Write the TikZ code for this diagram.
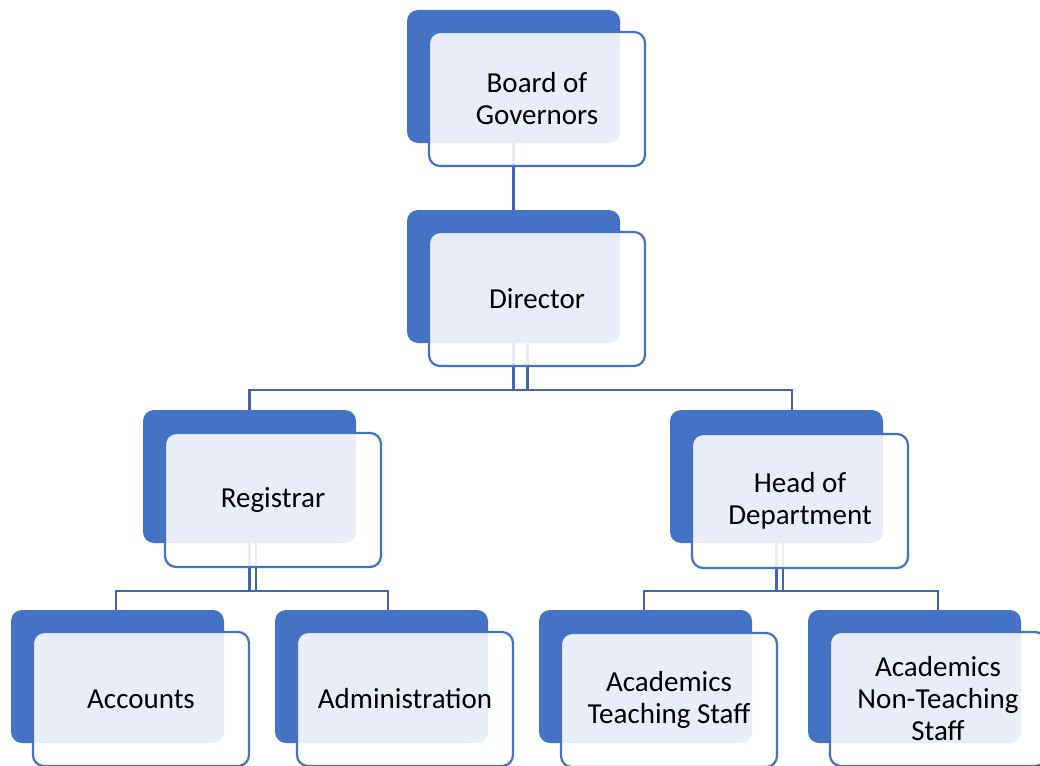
\documentclass[tikz,border=0pt]{standalone}
\usepackage{fontspec}
\setmainfont{Carlito}
\definecolor{boxblue}{HTML}{4472C4}

\begin{document}
\begin{tikzpicture}[x=1pt, y=-1pt,
  back/.style={fill=boxblue, rounded corners=11pt, minimum width=213pt, minimum height=133pt, inner sep=0pt},
  front/.style={draw=boxblue, line width=2.2pt, fill=white, fill opacity=.88, rounded corners=11pt, minimum width=216pt, minimum height=134pt, inner sep=0pt},
  lbl/.style={font=\fontsize{29}{32}\selectfont, align=center, text=black},
  link/.style={draw=boxblue!90!black, line width=2.4pt}]
\useasboundingbox (0,0) rectangle (1040,765);
	\foreach \n/\x/\y in {gov/513.5/76.5, dir/513.5/276.5, reg/249.5/476.5, hod/776.5/476.5, acc/117.5/676.5, adm/381.5/676.5, tea/645.5/676.5, non/914.5/676.5}
		\node[back] (\n-b) at (\x,\y) {};
	% links
	\draw[link] (gov-b.south) -- (dir-b.north);
	\draw[link] ([xshift=14pt]dir-b.south) -- ++(0,47) -| (reg-b.north);
	\draw[link] (dir-b.south) -- ++(0,47) -| ([xshift=15.5pt]hod-b.north);
	\draw[link] ([xshift=6.5pt]reg-b.south) -- ++(0,48) -| ([xshift=-1.5pt]acc-b.north);
	\draw[link] (reg-b.south) -- ++(0,48) -| ([xshift=6.5pt]adm-b.north);
	\draw[link] ([xshift=6.5pt]hod-b.south) -- ++(0,48) -| ([xshift=-1.5pt]tea-b.north);
	\draw[link] (hod-b.south) -- ++(0,48) -| ([xshift=23.5pt]non-b.north);
	\foreach \n/\x/\y/\txt in {gov/537/99/{Board of\\Governors}, dir/537/299/Director, reg/273/500/Registrar, hod/800/501/{Head of\\Department}, acc/141/699/Accounts, adm/405/699/Administration, tea/669/700/{Academics\\Teaching Staff}, non/938/699/{Academics\\Non-Teaching\\Staff}}
		{\node[front] (\n-f) at (\x,\y) {};
		\node[lbl] (\n) at (\x,\y) {\txt};}
\end{tikzpicture}
\end{document}
